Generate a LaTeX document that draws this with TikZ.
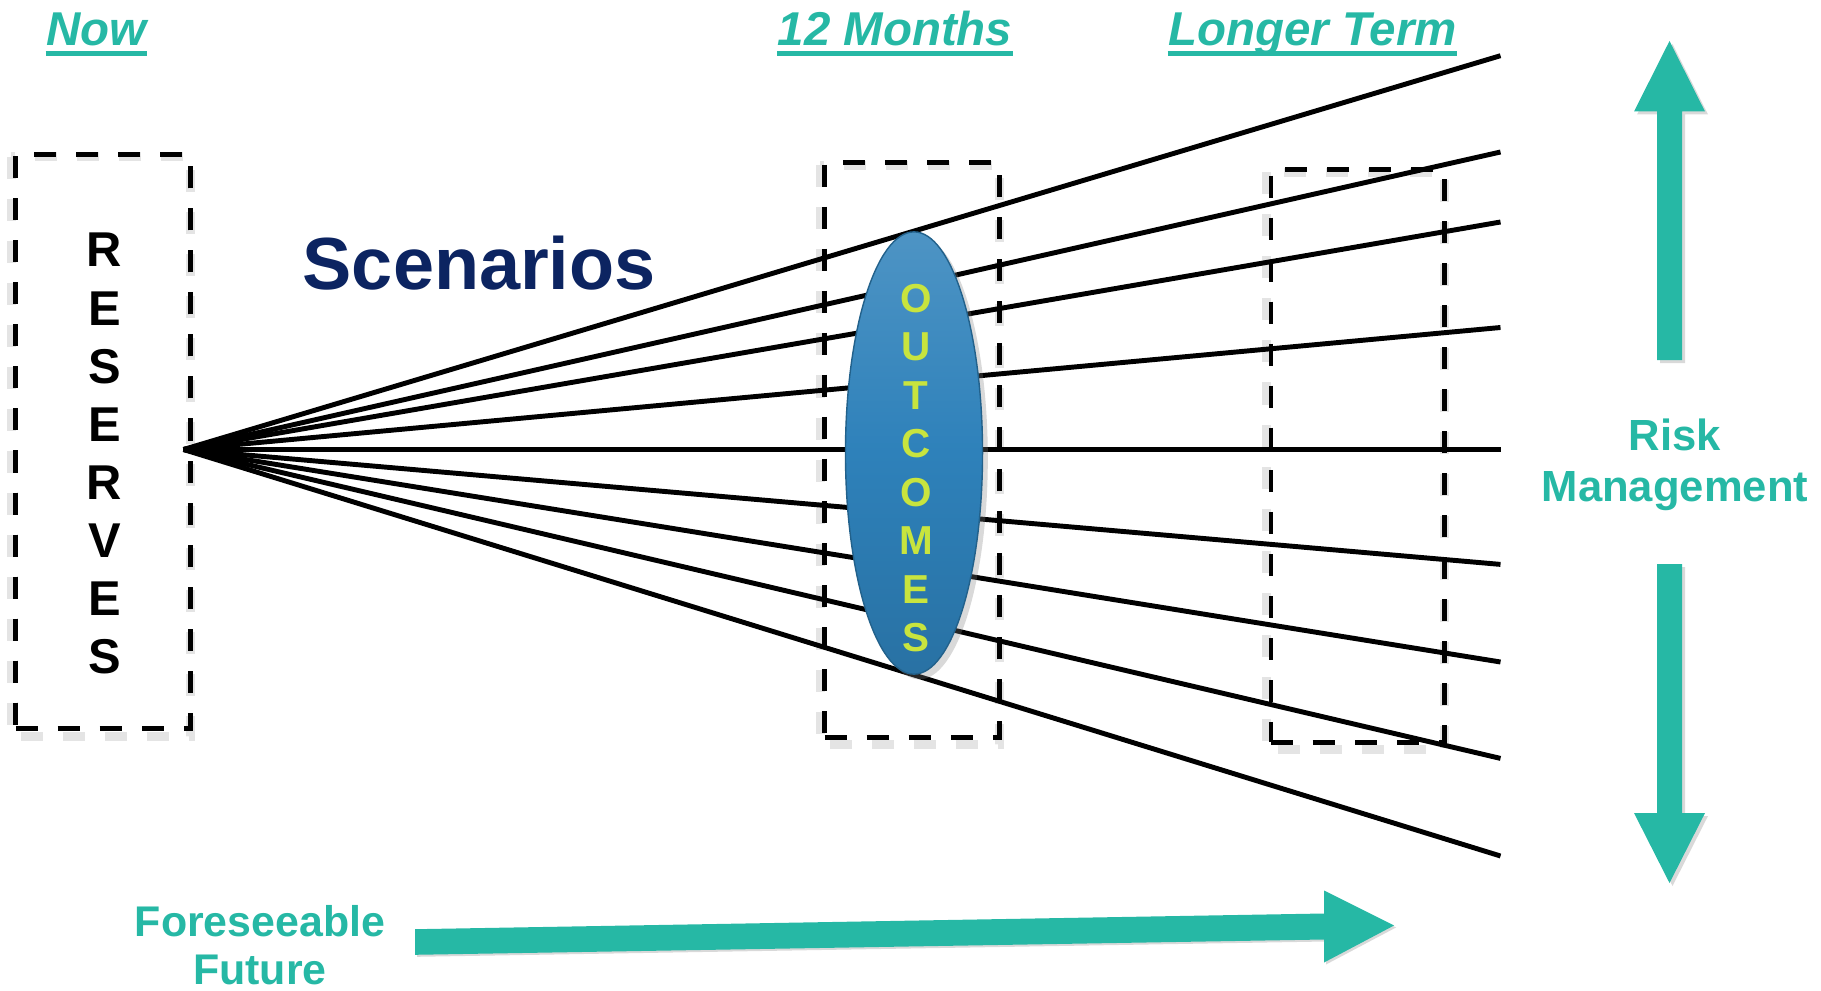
\documentclass[tikz,border=0pt]{standalone}
\usepackage{fontspec}
\setmainfont{Liberation Sans}
\usetikzlibrary{shapes.geometric,shadows,calc}
\definecolor{tealA}{RGB}{38,184,165}
\definecolor{navyA}{RGB}{12,36,97}
\definecolor{outcA}{RGB}{200,228,62}
\definecolor{blueA}{RGB}{46,129,186}
\begin{document}
\begin{tikzpicture}[x=0.01cm,y=-0.01cm,
  dbox/.style={draw=black, line width=1.4pt, dash pattern=on 0.22cm off 0.2cm, inner sep=0pt, minimum width=1.74cm, minimum height=5.74cm},
  boxshadow/.style={draw=black!35, line width=2.6pt, dash pattern=on 0.22cm off 0.2cm, opacity=0.3},
  fan/.style={black, line width=1.4pt},
  head/.style={text=tealA, font=\fontsize{13.5pt}{16pt}\selectfont\bfseries\itshape, inner sep=0pt, anchor=base},
  uline/.style={tealA, line width=0.05cm},
  lbl/.style={text=tealA, font=\fontsize{12.4pt}{15pt}\selectfont\bfseries, inner sep=0pt, anchor=base},
  bigarrow/.style={fill=tealA, draw=none},
  arrshadow/.style={fill=black, opacity=0.15, draw=none}
]
\useasboundingbox (0,0) rectangle (1821,991);

% dashed boxes
\node[dbox] (resbox) at (103,441.5) {};
\node[dbox] (mbox) at (912,450) {};
\node[dbox, minimum width=1.73cm, minimum height=5.72cm] (lbox) at (1357.5,456) {};
\foreach \b in {resbox,mbox,lbox}
  \draw[boxshadow] ($(\b.north west)+(-2,5)$) rectangle ($(\b.south east)+(-2,5)$);
\node[dbox] at (103,441.5) {};
\node[dbox] at (912,450) {};
\node[dbox, minimum width=1.73cm, minimum height=5.72cm] at (1357.5,456) {};

% fan of scenario lines
\coordinate (o) at (183.5,449.5);
\foreach \i/\y in {1/55.7,2/152,3/222,4/327.5,5/449.5,6/564.4,7/662,8/758.4,9/856}
  \coordinate (e\i) at (1500.5,\y);
\foreach \i in {1,...,9}
  \draw[fan] (o) -- (e\i);

% outcomes ellipse
\node[ellipse, top color=blueA!85!white, bottom color=blueA!88!black, middle color=blueA,
      draw=blueA!75!black, line width=0.4pt, inner sep=0pt,
      minimum width=1.37cm, minimum height=4.42cm,
      drop shadow={shadow xshift=1.5pt, shadow yshift=-1.5pt, opacity=0.3}] (outc) at (914,453) {};
\node[text=outcA, font=\fontsize{11.5pt}{13.8pt}\selectfont\bfseries, align=center, inner sep=0pt] (outt) at (916,468) {O\\U\\T\\C\\O\\M\\E\\S};

% reserves text
\node[font=\fontsize{13.9pt}{16.5pt}\selectfont\bfseries, align=center, inner sep=0pt] (res) at (104.5,453.5) {R\\E\\S\\E\\R\\V\\E\\S};

% scenarios
\node[anchor=base west, inner sep=0pt, text=navyA, font=\fontsize{21pt}{25pt}\selectfont\bfseries] (scen) at (302,290) {Scenarios};

% headings
\node[head] (now) at (96.5,46) {Now};
\node[head] (m12) at (895,46) {12 Months};
\node[head] (lt) at (1312.5,46) {Longer Term};
\foreach \n in {now,m12,lt}
  \draw[uline] ([yshift=-0.07cm]\n.base west) -- ([yshift=-0.07cm]\n.base east);

% risk management arrows
\fill[arrshadow] (1660,363) -- (1660,114.5) -- (1637,114.5) -- (1672.5,44) -- (1708,114.5) -- (1685,114.5) -- (1685,363) -- cycle;
\fill[bigarrow] (1657,360) -- (1657,111.5) -- (1634,111.5) -- (1669.5,41) -- (1705,111.5) -- (1682,111.5) -- (1682,360) -- cycle;
\fill[arrshadow] (1660,567) -- (1685,567) -- (1685,816) -- (1708,816) -- (1672.5,886) -- (1637,816) -- (1660,816) -- cycle;
\fill[bigarrow] (1657,564) -- (1682,564) -- (1682,813) -- (1705,813) -- (1669.5,883) -- (1634,813) -- (1657,813) -- cycle;
\node[lbl] (risk) at (1675,450.6) {Risk};
\node[lbl] (mgmt) at (1675,501.7) {Management};

% foreseeable future arrow
\fill[arrshadow] (417,931.2) -- (1326,915.5) -- (1326,892.5) -- (1396,927.5) -- (1326,964.5) -- (1326,941.5) -- (417,956.8) -- cycle;
\fill[bigarrow] (415,929.2) -- (1324,913.5) -- (1324,890.5) -- (1394,925.5) -- (1324,962.5) -- (1324,939.5) -- (415,954.8) -- cycle;
\node[lbl, font=\fontsize{12.2pt}{15pt}\selectfont\bfseries] (fore) at (260,936) {Foreseeable};
\node[lbl, font=\fontsize{12.2pt}{15pt}\selectfont\bfseries] (fut) at (260,984) {Future};
\end{tikzpicture}
\end{document}
